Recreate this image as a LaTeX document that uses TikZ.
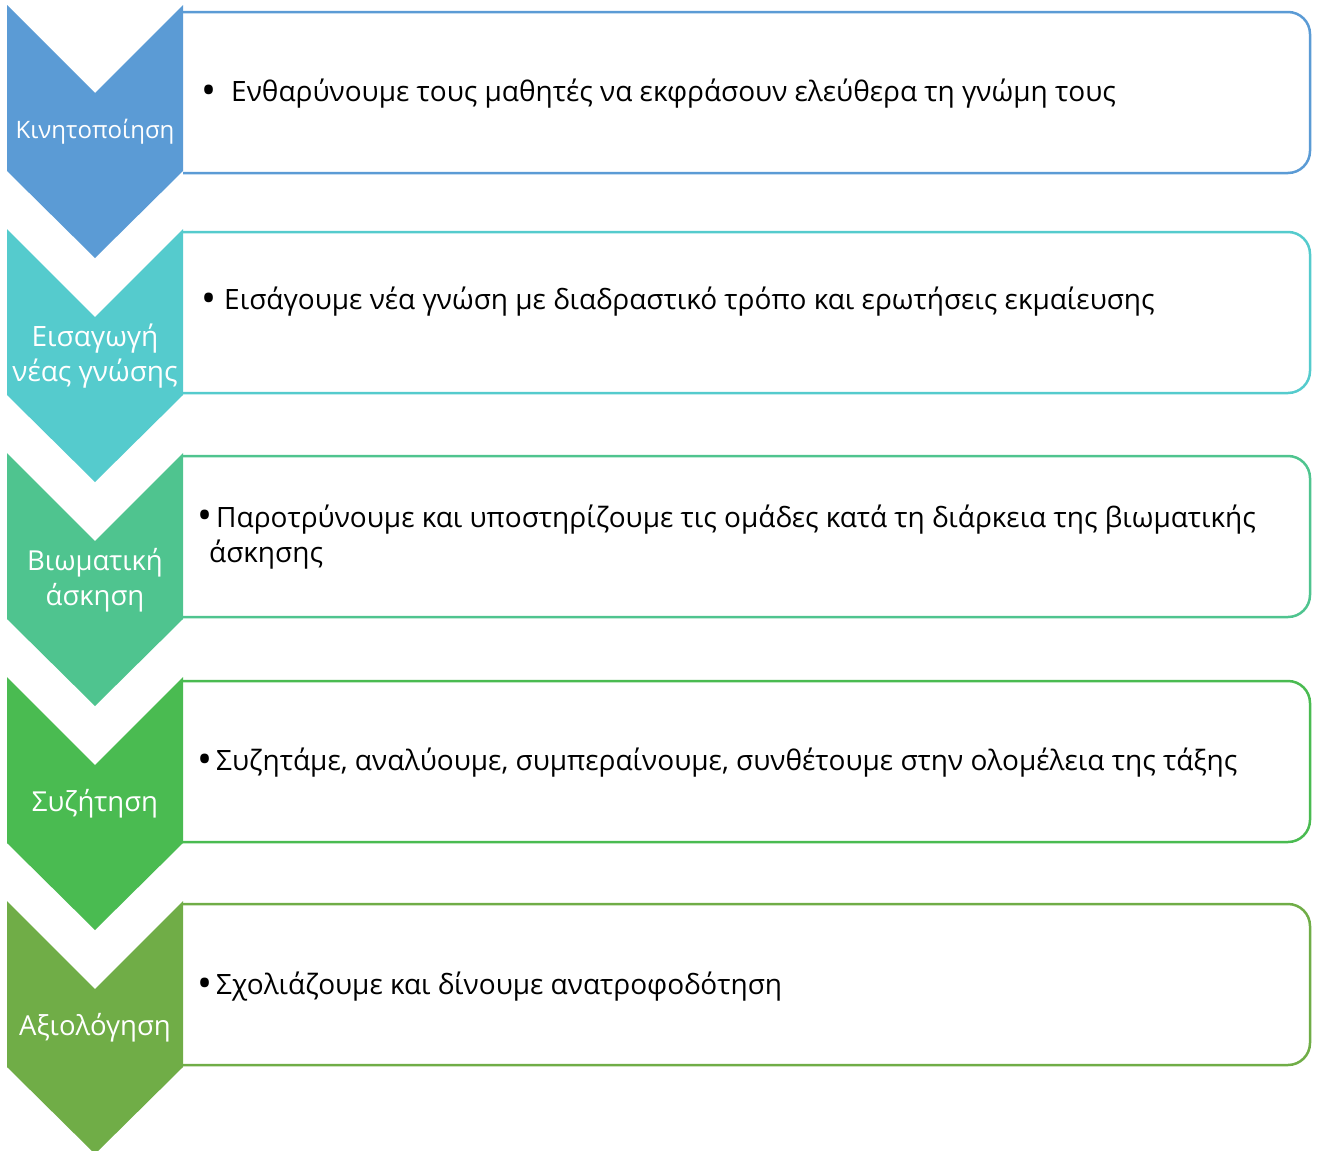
\documentclass[tikz,border=0pt]{standalone}
\usepackage{fontspec}
\setmainfont{Open Sans}
\usepackage{tikz}
\usetikzlibrary{positioning}

\definecolor{stepA}{HTML}{5B9BD5}
\definecolor{stepB}{HTML}{55CBCD}
\definecolor{stepC}{HTML}{4FC48F}
\definecolor{stepD}{HTML}{4ABB51}
\definecolor{stepE}{HTML}{70AD47}

\newcommand{\bigdot}{\raisebox{-2.5pt}{\fontsize{40}{35}\selectfont •}}

\begin{document}
\begin{tikzpicture}[x=1pt,y=-1pt,
  panel/.style={line width=2.5pt,rounded corners=22pt},
  chevlabel/.style={text=white,align=center,inner sep=0pt,font=\fontsize{27.5}{35}\selectfont},
  bullettext/.style={anchor=west,align=left,inner sep=0pt,font=\fontsize{28}{35}\selectfont}]
\useasboundingbox (0,0) rectangle (1317,1151);
% row 1
\draw [panel,stepA] (183,12) -- (1310,12) -- (1310,173) -- (183,173);
\fill [stepA] (7,5) -- (95,93) -- (183,5) -- (183,171) -- (95,258) -- (7,171) -- cycle;
\node [chevlabel,font=\fontsize{24}{35}\selectfont] (lab1) at (95,132) {Κινητοποίηση};
\node [bullettext] (txt1) at (201,94) {\bigdot\hspace{15pt}Ενθαρύνουμε τους μαθητές να εκφράσουν ελεύθερα τη γνώμη τους};
% row 2
\draw [panel,stepB] (183,232) -- (1310,232) -- (1310,393) -- (183,393);
\fill [stepB] (7,229) -- (95,317) -- (183,229) -- (183,395) -- (95,482) -- (7,395) -- cycle;
\node [chevlabel,font=\fontsize{28}{35}\selectfont] (lab2) at (95,356) {Εισαγωγή\\νέας γνώσης};
\node [bullettext] (txt2) at (201,302) {\bigdot\hspace{8pt}Εισάγουμε νέα γνώση με διαδραστικό τρόπο και ερωτήσεις εκμαίευσης};
% row 3
\draw [panel,stepC] (183,456) -- (1310,456) -- (1310,617) -- (183,617);
\fill [stepC] (7,453) -- (95,541) -- (183,453) -- (183,619) -- (95,706) -- (7,619) -- cycle;
\node [chevlabel] (lab3) at (95,580) {Βιωματική\\άσκηση};
\node [bullettext] (txt3) at (197,537) {\bigdot\hspace{4pt}Παροτρύνουμε και υποστηρίζουμε τις ομάδες κατά τη διάρκεια της βιωματικής\\\hspace*{12pt}άσκησης};
% row 4
\draw [panel,stepD] (183,681) -- (1310,681) -- (1310,842) -- (183,842);
\fill [stepD] (7,677) -- (95,765) -- (183,677) -- (183,843) -- (95,930) -- (7,843) -- cycle;
\node [chevlabel] (lab4) at (95,804) {Συζήτηση};
\node [bullettext] (txt4) at (197,763) {\bigdot\hspace{4pt}Συζητάμε, αναλύουμε, συμπεραίνουμε, συνθέτουμε στην ολομέλεια της τάξης};
% row 5
\draw [panel,stepE] (183,904) -- (1310,904) -- (1310,1065) -- (183,1065);
\fill [stepE] (7,901) -- (95,989) -- (183,901) -- (183,1067) -- (95,1154) -- (7,1067) -- cycle;
\node [chevlabel] (lab5) at (95,1028) {Αξιολόγηση};
\node [bullettext] (txt5) at (197,987) {\bigdot\hspace{4pt}Σχολιάζουμε και δίνουμε ανατροφοδότηση};
\end{tikzpicture}
\end{document}
